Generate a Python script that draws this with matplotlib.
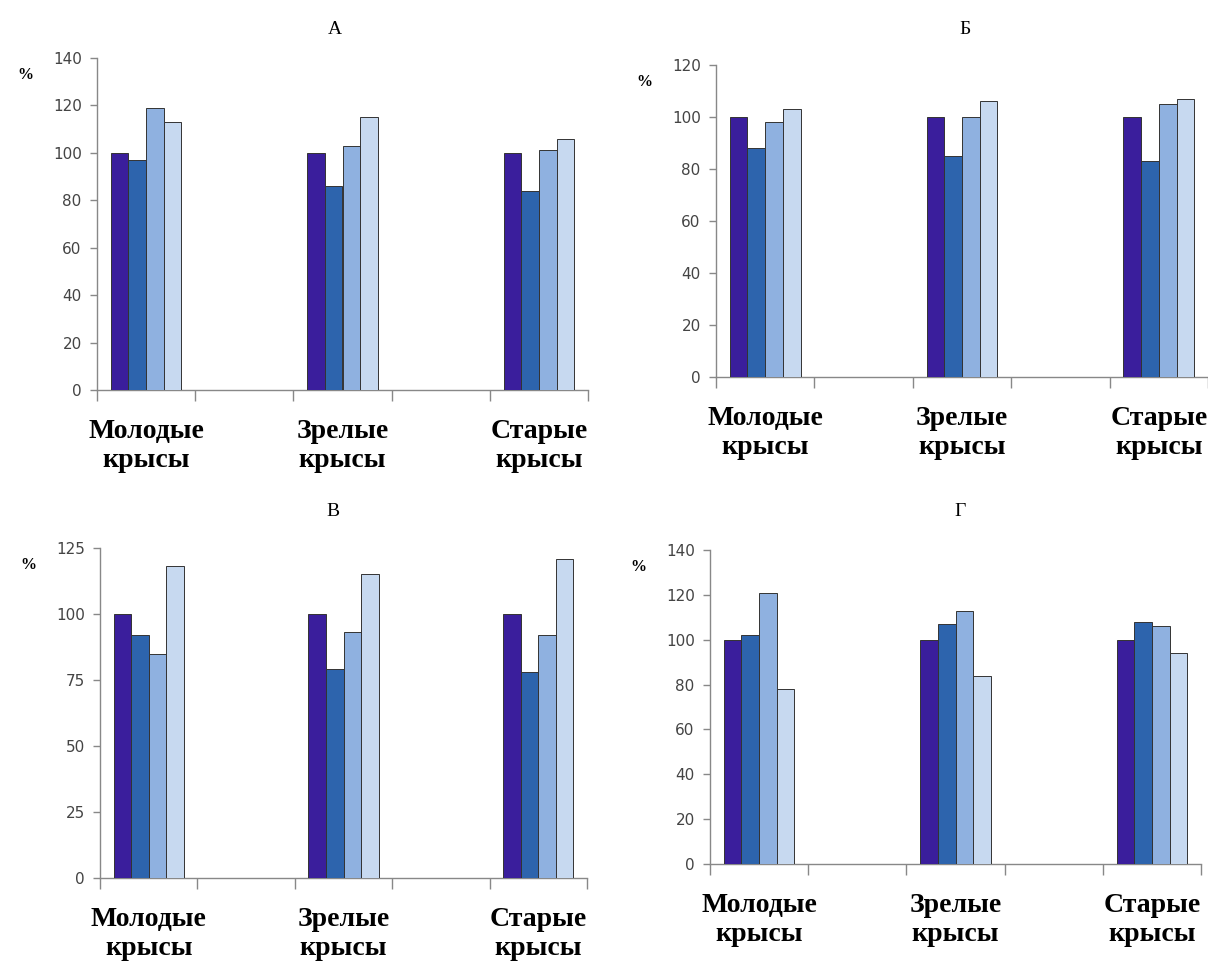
import numpy as np
import matplotlib
matplotlib.use("Agg")
import matplotlib.pyplot as plt

# groups (slots 1 and 3 are empty in the original chart)
groups = ["Молодые\nкрысы", "Зрелые\nкрысы", "Старые\nкрысы"]
group_pos = [0, 2, 4]

panel_titles = ["А", "Б", "В", "Г"]

# 4 series per group, values in %
vals_a = [[100, 97, 119, 113], [100, 86, 103, 115], [100, 84, 101, 106]]
vals_b = [[100, 88, 98, 103], [100, 85, 100, 106], [100, 83, 105, 107]]
vals_v = [[100, 92, 85, 118], [100, 79, 93, 115], [100, 78, 92, 121]]
vals_g = [[100, 102, 121, 78], [100, 107, 113, 84], [100, 108, 106, 94]]

ymax = [140, 120, 125, 140]
ystep = [20, 20, 25, 20]

colors = ["#3a1e9c", "#2d64ad", "#8fb1e0", "#c7d9f0"]

W, H = 1208, 961
fig = plt.figure(figsize=(W / 100, H / 100), dpi=100)

# axes boxes in pixels: left, right, top, bottom
boxes = [(97, 588, 58, 390), (716, 1208, 65, 377),
         (100, 587, 548, 878), (710, 1201, 550, 864)]
title_xy = [(335, 30), (965, 30), (333, 512), (960, 512)]

serif = "Liberation Serif"

for k, vals in enumerate([vals_a, vals_b, vals_v, vals_g]):
    l, r, t, b = boxes[k]
    ax = fig.add_axes([l / W, 1 - b / H, (r - l) / W, (b - t) / H])
    arr = np.array(vals)
    w = 0.18
    for j in range(4):
        ax.bar(np.array(group_pos) + (j - 1.5) * w, arr[:, j], width=w,
               color=colors[j], edgecolor="#333333", linewidth=0.7, zorder=3)
    ax.set_xlim(-0.5, 4.5)
    ax.set_ylim(0, ymax[k])
    ax.set_yticks(np.arange(0, ymax[k] + 1, ystep[k]))
    ax.set_xticks(np.arange(-0.5, 5, 1.0))
    ax.set_xticklabels([])
    ax.set_xticks(group_pos, minor=True)
    ax.set_xticklabels(groups, minor=True, fontfamily=serif, fontweight="bold",
                       fontsize=20, linespacing=1.22)
    ax.tick_params(axis="x", which="major", length=8, color="#888888", width=1)
    ax.tick_params(axis="x", which="minor", length=0, pad=21)
    ax.tick_params(axis="y", length=5, color="#888888", width=1,
                   labelsize=11, labelcolor="#444444", pad=6)
    for s in ["top", "right"]:
        ax.spines[s].set_visible(False)
    for s in ["left", "bottom"]:
        ax.spines[s].set_color("#888888")
        ax.spines[s].set_linewidth(1)
    tx, ty = title_xy[k]
    fig.text(tx / W, 1 - ty / H, panel_titles[k],
             ha="center", va="center", fontfamily=serif, fontsize=14)
    fig.text((l - 80) / W, 1 - (t + 17) / H, "%", ha="left", va="center",
             fontfamily=serif, fontweight="bold", fontsize=11.5)

fig.savefig("out.png", dpi=100, facecolor="white")
